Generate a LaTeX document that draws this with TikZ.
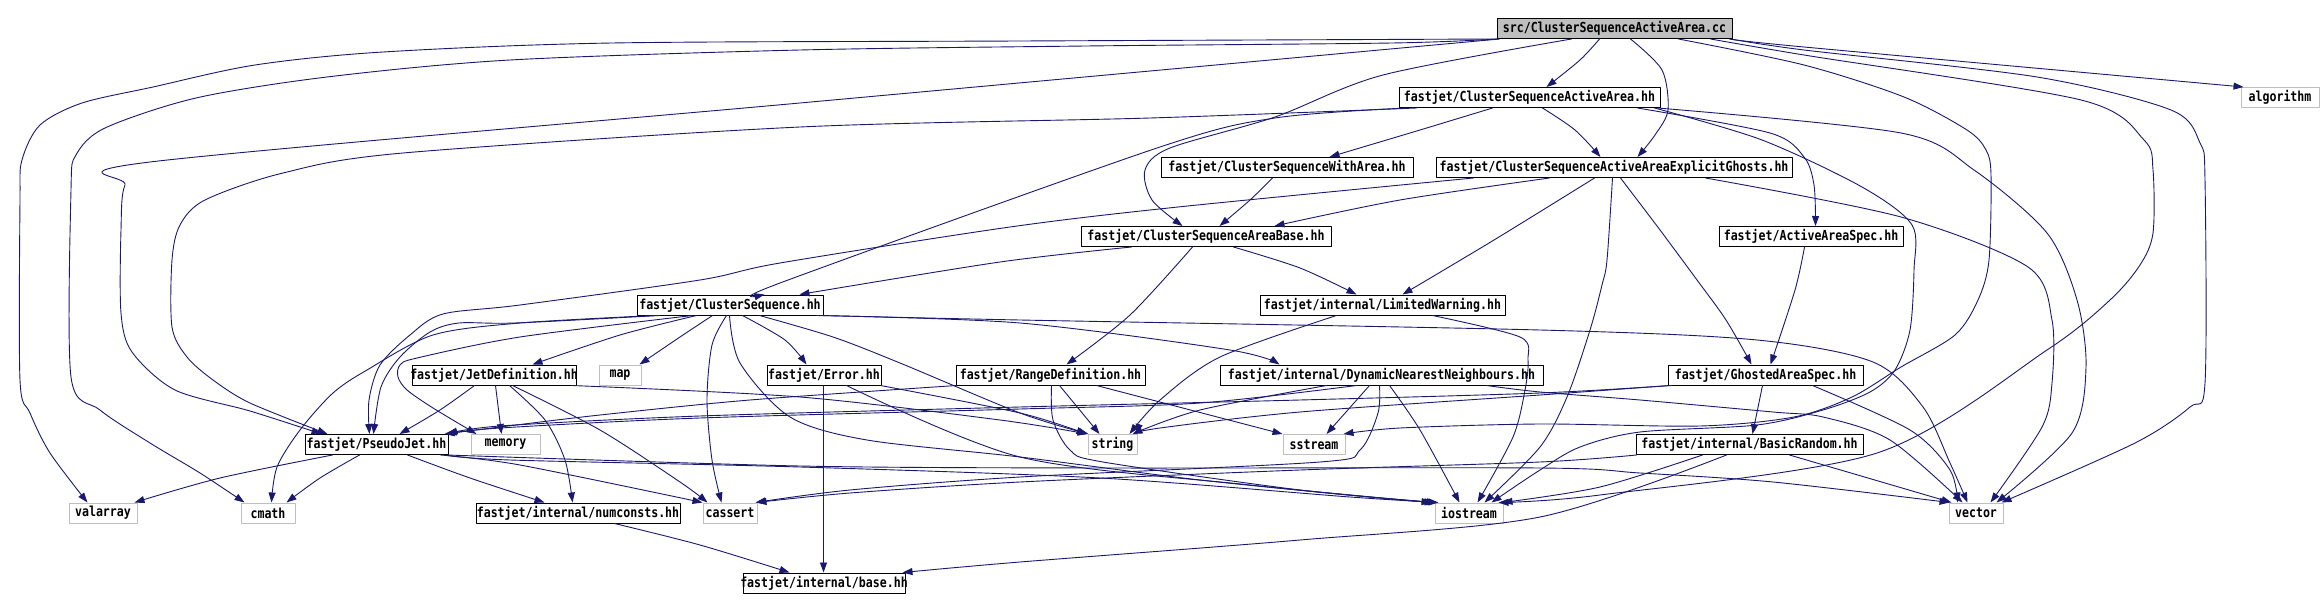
\documentclass[tikz,border=0pt]{standalone}
\usepackage{fontspec}
\newfontfamily\dotfont[FakeStretch=0.84]{DejaVu Sans Mono}
\usetikzlibrary{arrows.meta}
\usetikzlibrary{calc}
\definecolor{depblue}{RGB}{25,25,112}
\definecolor{sysgray}{RGB}{191,191,191}

\tikzset{
  hdr/.style={draw=black, fill=white, inner sep=0pt, minimum height=10pt, line width=0.5pt,
    font={\dotfont\bfseries\fontsize{6.9}{8}\selectfont},
    execute at begin node={\hbox to 0pt\bgroup\hss},
    execute at end node={\hss\egroup}},
  sys/.style={hdr, draw=sysgray},
  mainfile/.style={hdr, fill=sysgray},
  dep/.style={->, color=depblue, line width=0.45pt},
}

\begin{document}
\begin{tikzpicture}[line cap=round,line join=round,>={Triangle[length=5pt,width=3.5pt]},x=0.5pt,y=-0.5pt]
\fill[white] (0,0) rectangle (2324,610);
\useasboundingbox (0,0) rectangle (2324,610);

%tiedostot
\node[mainfile, minimum width=117.5pt] (root) at (1614.5,28.5) {src/ClusterSequenceActiveArea.cc};
\node[hdr, minimum width=130.5pt] (csaa) at (1529.5,97.5) {fastjet/ClusterSequenceActiveArea.hh};
\node[sys, minimum width=39pt] (algorithm) at (2280,97.5) {algorithm};
\node[hdr, minimum width=126pt] (cswa) at (1287,167.5) {fastjet/ClusterSequenceWithArea.hh};
\node[hdr, minimum width=178pt] (csaeg) at (1614,167.5) {fastjet/ClusterSequenceActiveAreaExplicitGhosts.hh};
\node[hdr, minimum width=125pt] (csab) at (1206,236.5) {fastjet/ClusterSequenceAreaBase.hh};
\node[hdr, minimum width=92pt] (aas) at (1811,236.5) {fastjet/ActiveAreaSpec.hh};
\node[hdr, minimum width=93pt] (cs) at (730,305) {fastjet/ClusterSequence.hh};
\node[hdr, minimum width=122.5pt] (lw) at (1382.5,305) {fastjet/internal/LimitedWarning.hh};
\node[hdr, minimum width=82pt] (jetdef) at (494,375) {fastjet/JetDefinition.hh};
\node[sys, minimum width=21pt] (map) at (620,375) {map};
\node[hdr, minimum width=57pt] (error) at (824,375) {fastjet/Error.hh};
\node[hdr, minimum width=94.5pt] (rangedef) at (1050.5,375) {fastjet/RangeDefinition.hh};
\node[hdr, minimum width=161.5pt] (dnn) at (1381.5,375) {fastjet/internal/DynamicNearestNeighbours.hh};
\node[hdr, minimum width=97.5pt] (gas) at (1765.5,375) {fastjet/GhostedAreaSpec.hh};
\node[hdr, minimum width=71.5pt] (pj) at (376.5,444.5) {fastjet/PseudoJet.hh};
\node[sys, minimum width=34.5pt] (memory) at (505.5,444.5) {memory};
\node[sys, minimum width=24.5pt] (string) at (1112.5,444.5) {string};
\node[sys, minimum width=31pt] (sstream) at (1314,444.5) {sstream};
\node[hdr, minimum width=113.5pt] (br) at (1749.5,444.5) {fastjet/internal/BasicRandom.hh};
\node[sys, minimum width=34pt] (valarray) at (103,513) {valarray};
\node[sys, minimum width=27pt] (cmath) at (268,513) {cmath};
\node[hdr, minimum width=102pt] (numconsts) at (578,513) {fastjet/internal/numconsts.hh};
\node[sys, minimum width=27pt] (cassert) at (730,513) {cassert};
\node[sys, minimum width=34pt] (iostream) at (1469,513) {iostream};
\node[sys, minimum width=27pt] (vector) at (1976,513) {vector};
\node[hdr, minimum width=81pt] (base) at (824,583) {fastjet/internal/base.hh};

%src/ClusterSequenceActiveArea.cc
\draw[dep] plot[smooth] coordinates {($(root.south west)+(103,0)$) (1580,60) ($(csaa.north west)+(148,0)$)};
\draw[dep] plot[smooth] coordinates {($(root.south west)+(134,0)$) (1662,70) (1668,110) (1655,135) ($(csaeg.north west)+(202,0)$)};
\draw[dep] plot[smooth] coordinates {($(root.south west)+(75,0)$) (1383,75) (1275,117) (1170,148) (1145,170) (1152,200) ($(csab.north west)+(102,0)$)};
\draw[dep] plot[smooth] coordinates {($(root.south west)+(3,0)$) (800,103) (150,162) (125,185) (121,230) (121,313) (132,352) (175,390) (250,411) ($(pj.north west)+(17,0)$)};
\draw[dep] plot[smooth] coordinates {($(root.south west)+(1,0)$) (1020,41) (612,43) (383,52) (255,65) (153,87) (82,103) (40,125) (22,160) (20,200) (20,380) (30,413) (50,453) ($(valarray.north west)+(19,0)$)};
\draw[dep] plot[smooth] coordinates {($(root.south west)+(2,0)$) (1392,43) (1086,46) (800,50) (510,60) (327,77) (196,98) (105,128) (76,155) (71,190) (71,377) (100,410) (150,443) (200,473) ($(cmath.north west)+(4,0)$)};
\draw[dep] plot[smooth] coordinates {($(root.south west)+(233,0)$) (1804,47) ($(algorithm.north west)+(3,0)$)};
\draw[dep] plot[smooth] coordinates {($(root.south west)+(234,0)$) (1804,50) (2037,77) (2171,110) (2200,143) (2205,180) (2205,383) (2190,407) (2135,443) ($(vector.north west)+(53,0)$)};
\draw[dep] plot[smooth] coordinates {($(root.south west)+(214,0)$) (1804,55) (2081,100) (2144,140) (2153,170) (2153,233) (2140,265) (2110,300) (2047,350) (1877,453) (1600,495) ($(iostream.north west)+(64,0)$)};
\draw[dep] plot[smooth] coordinates {($(root.south west)+(182,0)$) (1804,65) (1904,97) (1967,130) (1986,150) (1991,175) (1989,260) (1978,300) (1955,335) (1901,367) (1852,397) (1794,417) (1700,426) (1540,424) (1400,428) ($(sstream.north west)+(61,0)$)};

%fastjet/ClusterSequenceActiveArea.hh
\draw[dep] plot[smooth] coordinates {($(csaa.south west)+(18,0)$) (1150,118) (800,127) (403,153) (283,173) (205,200) (180,225) (172,260) (172,327) (187,357) (213,380) (250,403) ($(pj.north west)+(23,0)$)};
\draw[dep] plot[smooth] coordinates {($(csaa.south west)+(8,0)$) (1275,118) (1157,148) (780,283) ($(cs.north west)+(128,0)$)};
\draw[dep] plot[smooth] coordinates {($(csaa.south west)+(94,0)$) (1420,130) ($(cswa.north west)+(169,0)$)};
\draw[dep] plot[smooth] coordinates {($(csaa.south west)+(144,0)$) (1575,130) ($(csaeg.north west)+(165,0)$)};
\draw[dep] plot[smooth] coordinates {($(csaa.south west)+(239,0)$) (1770,133) (1804,157) (1814,185) ($(aas.north west)+(97,0)$)};
\draw[dep] plot[smooth] coordinates {($(csaa.south west)+(256,0)$) (1762,140) (1862,187) (1912,225) (1914,270) (1910,330) (1895,370) (1870,392) (1823,410) (1757,425) (1640,432) (1580,447) (1540,470) ($(iostream.north west)+(57,0)$)};
\draw[dep] plot[smooth] coordinates {($(csaa.south west)+(259,0)$) (1901,133) (1974,170) (2047,233) (2077,300) (2086,367) (2072,433) ($(vector.north west)+(48,0)$)};

%with area, explicit ghosts, area base, active area spec
\draw[dep] plot[smooth] coordinates {($(cswa.south west)+(112,0)$) (1250,200) ($(csab.north west)+(139,0)$)};
\draw[dep] plot[smooth] coordinates {($(csaeg.south west)+(114,0)$) (1400,200) ($(csab.north west)+(194,0)$)};
\draw[dep] plot[smooth] coordinates {($(csaeg.south west)+(38,0)$) (1178,207) (1010,227) (780,263) (700,280) (520,305) (443,314) (410,335) (380,365) (369,400) ($(pj.north west)+(65,0)$)};
\draw[dep] plot[smooth] coordinates {($(csaeg.south west)+(185,0)$) (1660,230) (1697,280) (1726,320) ($(gas.north west)+(84,0)$)};
\draw[dep] plot[smooth] coordinates {($(csaeg.south west)+(159,0)$) (1494,240) ($(lw.north west)+(143,0)$)};
\draw[dep] plot[smooth] coordinates {($(csaeg.south west)+(177,0)$) (1607,260) (1602,285) (1590,330) (1567,397) (1540,447) ($(iostream.north west)+(50,0)$)};
\draw[dep] plot[smooth] coordinates {($(csaeg.south west)+(270,0)$) (1901,217) (2028,267) (2052,320) (2052,383) (2042,427) ($(vector.north west)+(42,0)$)};
\draw[dep] plot[smooth] coordinates {($(csab.south west)+(51,0)$) (1000,262) ($(cs.north west)+(163,0)$)};
\draw[dep] plot[smooth] coordinates {($(csab.south west)+(112,0)$) (1130,315) ($(rangedef.north west)+(111,0)$)};
\draw[dep] plot[smooth] coordinates {($(csab.south west)+(153,0)$) (1300,268) ($(lw.north west)+(97,0)$)};
\draw[dep] plot[smooth] coordinates {($(aas.south west)+(86,0)$) (1795,290) ($(gas.north west)+(103,0)$)};

%fastjet/ClusterSequence.hh
\draw[dep] plot[smooth] coordinates {($(cs.south west)+(23,0)$) (515,323) (459,323) (430,332) (400,357) (381,387) ($(pj.north west)+(69,0)$)};
\draw[dep] plot[smooth] coordinates {($(cs.south west)+(18,0)$) (520,323) (433,335) (367,370) (333,393) (300,430) (277,467) ($(cmath.north west)+(31,0)$)};
\draw[dep] plot[smooth] coordinates {($(cs.south west)+(56,0)$) (520,337) (417,358) (400,365) (398,377) (407,390) (433,408) ($(memory.north west)+(6,0)$)};
\draw[dep] plot[smooth] coordinates {($(cs.south west)+(60,0)$) (620,335) ($(jetdef.north west)+(121,0)$)};
\draw[dep] plot[smooth] coordinates {($(cs.south west)+(76,0)$) (680,337) ($(map.north west)+(41,0)$)};
\draw[dep] plot[smooth] coordinates {($(cs.south west)+(90,0)$) (712,345) (707,400) (712,460) ($(cassert.north west)+(19,0)$)};
\draw[dep] plot[smooth] coordinates {($(cs.south west)+(93,0)$) (740,363) (790,417) (867,440) (1020,457) (1200,480) (1380,498) ($(iostream.north west)+(0,0)$)};
\draw[dep] plot[smooth] coordinates {($(cs.south west)+(106,0)$) (785,340) ($(error.north west)+(40,0)$)};
\draw[dep] plot[smooth] coordinates {($(cs.south west)+(123,0)$) (833,337) (900,363) (1020,413) ($(string.north west)+(1,0)$)};
\draw[dep] plot[smooth] coordinates {($(cs.south west)+(180,0)$) (1020,323) (1230,350) ($(dnn.north west)+(60,0)$)};
\draw[dep] plot[smooth] coordinates {($(cs.south west)+(185,0)$) (1020,320) (1540,330) (1757,340) (1873,362) (1923,407) (1950,463) ($(vector.north west)+(19,0)$)};

%LimitedWarning, JetDefinition, Error
\draw[dep] plot[smooth] coordinates {($(lw.south west)+(77,0)$) (1220,357) (1160,400) ($(string.north west)+(42,0)$)};
\draw[dep] plot[smooth] coordinates {($(lw.south west)+(173,0)$) (1520,337) (1528,360) (1525,390) (1513,437) ($(iostream.north west)+(43,0)$)};
\draw[dep] plot[smooth] coordinates {($(jetdef.south west)+(63,0)$) (440,410) ($(pj.north west)+(95,0)$)};
\draw[dep] ($(jetdef.south west)+(84,0)$) -- ($(memory.north west)+(31,0)$);
\draw[dep] plot[smooth] coordinates {($(jetdef.south west)+(98,0)$) (545,420) (565,460) ($(numconsts.north west)+(97,0)$)};
\draw[dep] plot[smooth] coordinates {($(jetdef.south west)+(101,0)$) (600,430) (680,482) ($(cassert.north west)+(5,0)$)};
\draw[dep] plot[smooth] coordinates {($(jetdef.south west)+(160,0)$) (800,397) (1000,420) ($(string.north west)+(0,0)$)};
\draw[dep] ($(error.south west)+(57,0)$) -- ($(base.north west)+(81,0)$);
\draw[dep] plot[smooth] coordinates {($(error.south west)+(114,0)$) (1020,413) ($(string.north west)+(-1,0)$)};
\draw[dep] plot[smooth] coordinates {($(error.south west)+(80,0)$) (1020,457) (1250,485) ($(iostream.north west)+(-3,0)$)};

%RangeDefinition, DynamicNearestNeighbours
\draw[dep] plot[smooth] coordinates {($(rangedef.south west)+(1,0)$) (750,400) (600,415) (500,427) ($(pj.north west)+(140,0)$)};
\draw[dep] ($(rangedef.south west)+(104,0)$) -- ($(string.north west)+(12,0)$);
\draw[dep] ($(rangedef.south west)+(141,0)$) -- ($(sstream.north west)+(0,0)$);
\draw[dep] plot[smooth] coordinates {($(rangedef.south west)+(96,0)$) (1053,420) (1070,450) (1103,462) (1300,490) ($(iostream.north west)+(2,0)$)};
\draw[dep] plot[smooth] coordinates {($(dnn.south west)+(137,0)$) (1200,403) (1020,409) (700,418) (500,428) ($(pj.north west)+(142,0)$)};
\draw[dep] plot[smooth] coordinates {($(dnn.south west)+(107,0)$) (1200,410) ($(string.north west)+(45,0)$)};
\draw[dep] ($(dnn.south west)+(150,0)$) -- ($(sstream.north west)+(44,0)$);
\draw[dep] plot[smooth] coordinates {($(dnn.south west)+(170,0)$) (1420,430) ($(iostream.north west)+(25,0)$)};
\draw[dep] plot[smooth] coordinates {($(dnn.south west)+(160,0)$) (1378,413) (1360,450) (1320,462) (1020,477) (850,490) ($(cassert.north west)+(53,0)$)};
\draw[dep] plot[smooth] coordinates {($(dnn.south west)+(267,0)$) (1540,392) (1640,400) (1773,412) (1823,417) (1890,440) ($(vector.north west)+(14,0)$)};

%GhostedAreaSpec, BasicRandom
\draw[dep] plot[smooth] coordinates {($(gas.south west)+(4,0)$) (1540,393) (1300,400) (1020,407) (700,416) (500,426) ($(pj.north west)+(143,0)$)};
\draw[dep] plot[smooth] coordinates {($(gas.south west)+(2,0)$) (1540,395) (1300,412) (1160,428) ($(string.north west)+(49,0)$)};
\draw[dep] ($(gas.south west)+(95,0)$) -- ($(br.north west)+(117,0)$);
\draw[dep] plot[smooth] coordinates {($(gas.south west)+(145,0)$) (1910,430) (1950,470) ($(vector.north west)+(9,0)$)};
\draw[dep] plot[smooth] coordinates {($(br.south west)+(67,0)$) (1600,487) ($(iostream.north west)+(68,0)$)};
\draw[dep] plot[smooth] coordinates {($(br.south west)+(1,0)$) (1540,462) (1300,470) (1020,482) (850,493) ($(cassert.north west)+(54,0)$)};
\draw[dep] ($(br.south west)+(154,0)$) -- ($(vector.north west)+(3,0)$);
\draw[dep] plot[smooth] coordinates {($(br.south west)+(91,0)$) (1540,517) (1300,540) (1020,562) ($(base.north west)+(160,0)$)};

%fastjet/PseudoJet.hh
\draw[dep] plot[smooth] coordinates {($(pj.south west)+(28,0)$) (220,478) ($(valarray.north west)+(66,0)$)};
\draw[dep] plot[smooth] coordinates {($(pj.south west)+(55,0)$) (320,478) ($(cmath.north west)+(46,0)$)};
\draw[dep] plot[smooth] coordinates {($(pj.south west)+(103,0)$) (470,478) ($(numconsts.north west)+(69,0)$)};
\draw[dep] plot[smooth] coordinates {($(pj.south west)+(136,0)$) (520,465) ($(cassert.north west)+(0,0)$)};
\draw[dep] plot[smooth] coordinates {($(pj.south west)+(140,0)$) (510,460) (800,467) (1100,478) (1350,497) ($(iostream.north west)+(4,0)$)};
\draw[dep] plot[smooth] coordinates {($(pj.south west)+(143,0)$) (800,466) (1100,468) (1540,468) (1640,473) (1773,482) ($(vector.north west)+(1,0)$)};
\draw[dep] plot[smooth] coordinates {($(numconsts.south west)+(139,0)$) (700,545) ($(base.north west)+(47,0)$)};
\end{tikzpicture}
\end{document}
